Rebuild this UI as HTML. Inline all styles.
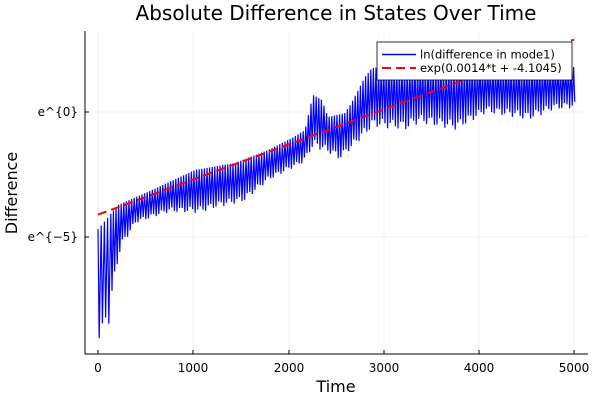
<!DOCTYPE html>
<html><head><meta charset="utf-8"><style>
html,body{margin:0;padding:0;background:#fff;width:600px;height:400px;overflow:hidden}
svg text{font-family:"DejaVu Sans","Liberation Sans",sans-serif}
</style></head><body>
<svg id="s" width="600" height="400" xmlns="http://www.w3.org/2000/svg">
<rect width="600" height="400" fill="#fff"/>
<g stroke="#000" stroke-opacity="0.1" stroke-width="0.5">
<line x1="98" y1="31" x2="98" y2="354"/><line x1="193" y1="31" x2="193" y2="354"/><line x1="289" y1="31" x2="289" y2="354"/><line x1="384" y1="31" x2="384" y2="354"/><line x1="479" y1="31" x2="479" y2="354"/><line x1="574" y1="31" x2="574" y2="354"/>
<line x1="85" y1="112" x2="588" y2="112"/><line x1="85" y1="237" x2="588" y2="237"/>
</g>
<g id="blue"></g>
<line x1="98" y1="214.6" x2="574" y2="39.6" stroke="#f00" stroke-width="2" stroke-dasharray="9,5"/>
<g stroke="#000" stroke-width="1">
<line x1="85" y1="31" x2="85" y2="354.5"/><line x1="85" y1="354" x2="588" y2="354"/>
<line x1="98" y1="354" x2="98" y2="350"/><line x1="193" y1="354" x2="193" y2="350"/><line x1="289" y1="354" x2="289" y2="350"/><line x1="384" y1="354" x2="384" y2="350"/><line x1="479" y1="354" x2="479" y2="350"/><line x1="574" y1="354" x2="574" y2="350"/>
<line x1="85" y1="112" x2="89" y2="112"/><line x1="85" y1="237" x2="89" y2="237"/>
</g>
<g font-size="12" fill="#000" text-anchor="middle" style="font-family:'DejaVu Sans Mono','Liberation Mono',monospace">
<text x="98" y="372">0</text><text x="193" y="372">1000</text><text x="289" y="372">2000</text><text x="384" y="372">3000</text><text x="479" y="372">4000</text><text x="574" y="372">5000</text>
<text x="78" y="116" text-anchor="end">e^{0}</text><text x="78" y="241" text-anchor="end">e^{−5}</text>
</g>
<text x="336" y="392" font-size="16" text-anchor="middle">Time</text>
<text x="17" y="193" font-size="16" text-anchor="middle" transform="rotate(-90 17 193)">Difference</text>
<text x="336" y="20" font-size="20" text-anchor="middle">Absolute Difference in States Over Time</text>
<rect x="377" y="42" width="195" height="38" fill="#fff" stroke="#000" stroke-width="0.8"/>
<line x1="382" y1="54.5" x2="416" y2="54.5" stroke="#00f" stroke-width="1.5"/>
<line x1="382" y1="68" x2="416" y2="68" stroke="#f00" stroke-width="2" stroke-dasharray="9,5"/>
<text x="420" y="58.5" font-size="11.5">ln(difference in mode1)</text>
<text x="420" y="72" font-size="11.5">exp(0.0014*t + -4.1045)</text>
</svg>
<script>
function interp(pts,x){for(var i=0;i<pts.length-1;i++){if(x<=pts[i+1][0]){var a=pts[i],b=pts[i+1];return a[1]+(b[1]-a[1])*(x-a[0])/(b[0]-a[0]);}}return pts[pts.length-1][1];}
var up=[[98,229],[100,227],[118,205],[152,190],[195,170],[235,163],[268,150],[292,138],[305,130],[313,95],[317,97],[322,100],[328,117],[345,113],[352,102],[365,77],[372,68],[385,67],[574,67]];
var lo=[[98,347],[100,347],[105,320],[108,325],[112,290],[115,270],[120,247],[135,223],[168,212],[198,213],[218,207],[242,202],[268,180],[302,163],[312,147],[332,155],[338,160],[352,147],[372,127],[405,130],[418,123],[455,130],[485,113],[512,117],[528,120],[552,110],[574,108]];
var d="",x=98,k=0;
while(x<=574){var u=interp(up,x),l=interp(lo,x);var n=(Math.sin(k*1.7)*0.5+0.5);
var lv=l-(l-u)*0.15*n;d+=(k==0?"M":"L")+x.toFixed(1)+","+u.toFixed(1)+"L"+(x+1.2).toFixed(1)+","+lv.toFixed(1);
x+=(x<110?3.2:2.6);k++;}
document.getElementById("blue").innerHTML='<path d="'+d+'" fill="none" stroke="#00f" stroke-width="1.2"/>';
</script>
</body></html>
